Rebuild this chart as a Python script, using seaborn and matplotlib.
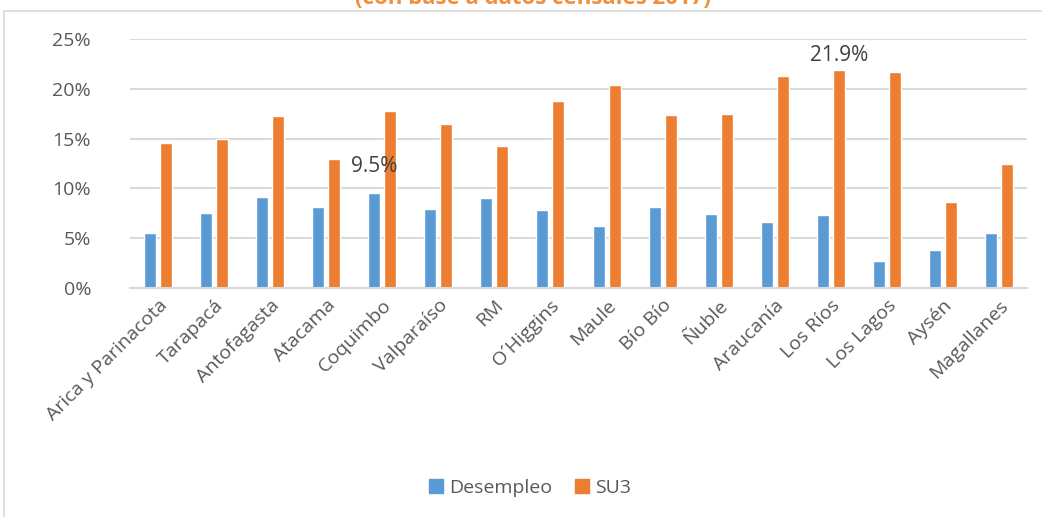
import pandas as pd
import matplotlib.pyplot as plt
import matplotlib.patches as mpatches
import seaborn as sns
from matplotlib.ticker import PercentFormatter

# Data (percent)
regiones = ["Arica y Parinacota", "Tarapacá", "Antofagasta", "Atacama", "Coquimbo",
            "Valparaíso", "RM", "O´Higgins", "Maule", "Bío Bío", "Ñuble",
            "Araucanía", "Los Ríos", "Los Lagos", "Aysén", "Magallanes"]
desempleo = [5.5, 7.5, 9.1, 8.1, 9.5, 7.9, 9.0, 7.8, 6.2, 8.1, 7.4, 6.6, 7.3, 2.7, 3.8, 5.5]
su3 = [14.6, 15.0, 17.3, 13.0, 17.8, 16.5, 14.3, 18.8, 20.4, 17.4, 17.5, 21.3, 21.9, 21.7, 8.6, 12.4]
series = ["Desempleo", "SU3"]
colores = ["#5B9BD5", "#ED7D31"]

df = pd.DataFrame({"region": regiones * 2,
                   "serie": [series[0]] * len(regiones) + [series[1]] * len(regiones),
                   "valor": desempleo + su3})

sns.set_theme(style="white")
plt.rcParams["font.family"] = ["Open Sans", "DejaVu Sans"]

fig = plt.figure(figsize=(10.42, 5.17), dpi=100)
W, H = 1042, 517
ax = fig.add_axes([130 / W, (H - 288) / H, (1027 - 130) / W, (288 - 39) / H])

sns.barplot(data=df, x="region", y="valor", hue="serie", palette=colores,
            width=0.57, gap=0.25, ax=ax, legend=False, saturation=1)

ax.set_ylim(0, 25)
ax.set_xlim(-0.5, len(regiones) - 0.5)
ax.set_yticks([0, 5, 10, 15, 20, 25])
ax.yaxis.set_major_formatter(PercentFormatter(decimals=0))
ax.grid(axis="y", color="#d9d9d9", linewidth=1.5)
ax.set_axisbelow(True)
for s in ["top", "right", "left"]:
    ax.spines[s].set_visible(False)
ax.spines["bottom"].set_color("#d9d9d9")
ax.spines["bottom"].set_linewidth(1.5)
ax.set_xlabel("")
ax.set_ylabel("")
ax.tick_params(axis="both", length=0, labelsize=14, colors="#595959")
ax.tick_params(axis="y", pad=28)
ax.tick_params(axis="x", pad=6)
plt.setp(ax.get_xticklabels(), rotation=45, ha="right", rotation_mode="anchor")

# data labels
i = regiones.index("Coquimbo")
ax.annotate(f"{desempleo[i]}%", (i - 0.14, desempleo[i]), xytext=(0, 16),
            textcoords="offset pixels", ha="center", va="bottom",
            fontsize=15, color="#404040")
j = regiones.index("Los Ríos")
ax.annotate(f"{su3[j]}%", (j + 0.14, su3[j]), xytext=(0, 4),
            textcoords="offset pixels", ha="center", va="bottom",
            fontsize=15, color="#404040")

# legend
handles = [mpatches.Patch(color=c, label=s) for c, s in zip(colores, series)]
fig.legend(handles=handles, loc="center", bbox_to_anchor=(530 / W, 1 - 488 / H),
           ncol=2, frameon=False, fontsize=14, handlelength=0.7, handleheight=0.7,
           handletextpad=0.3, columnspacing=1.2, labelcolor="#595959")

# cut-off title and chart border
fig.text(533 / W, 1 - 4 / H, "(con base a datos censales 2017)", ha="center",
         va="baseline", fontsize=16, fontweight="bold", color="#F0903F")
fig.patches.append(mpatches.Rectangle((4 / W, -0.05), 1.2, 1.05 - 11 / H,
                                      transform=fig.transFigure, fill=False,
                                      edgecolor="#d9d9d9", linewidth=1.2))

fig.savefig("out.png", dpi=100)
